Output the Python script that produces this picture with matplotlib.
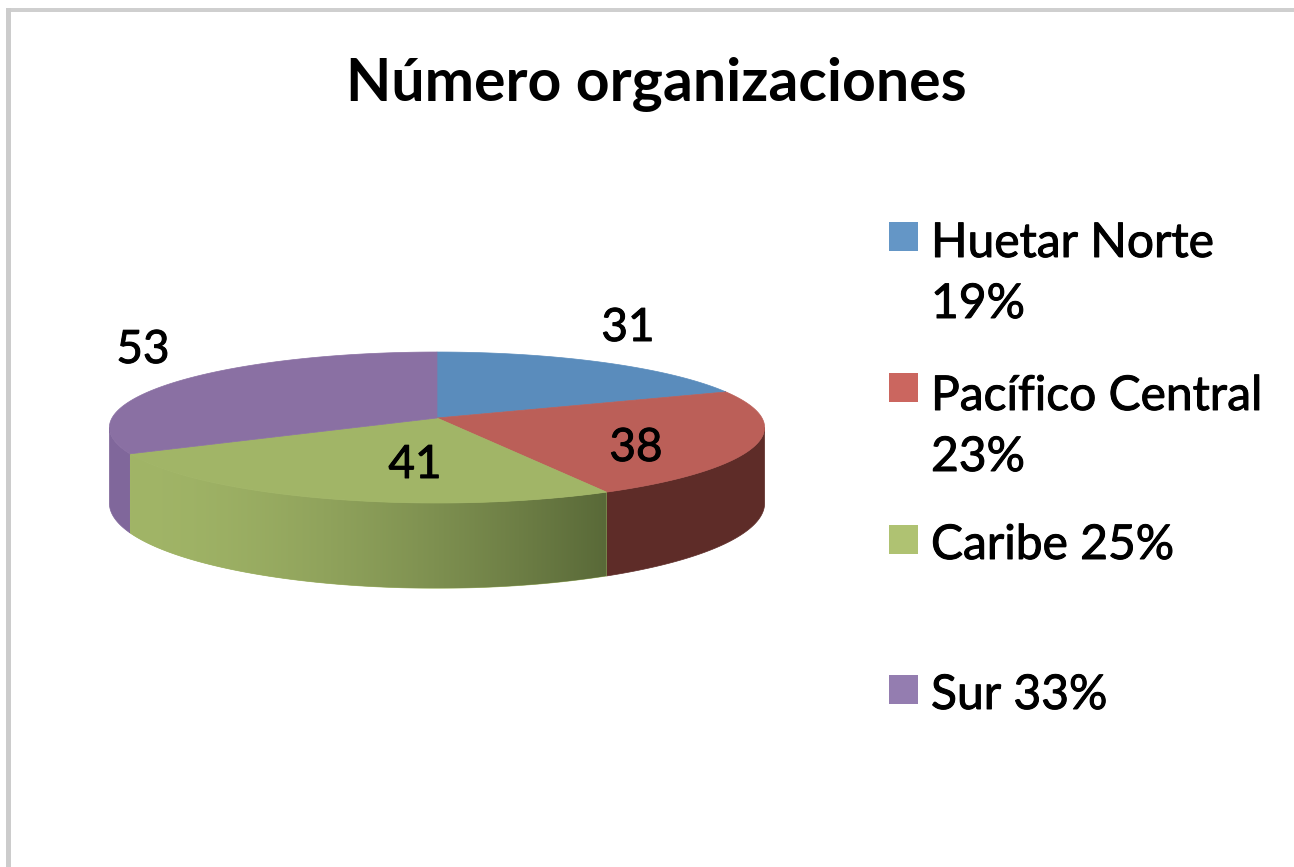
import matplotlib
matplotlib.use("Agg")
import matplotlib.pyplot as plt
import matplotlib.patheffects as pe
import numpy as np
from matplotlib.patches import Polygon, Rectangle

plt.rcParams['font.family'] = ['Lato', 'DejaVu Sans']

# datos
regiones = ["Huetar Norte\n19%", "Pacífico Central\n23%", "Caribe 25%", "Sur 33%"]
valores = [31, 38, 41, 53]

col_top = ['#5a8cbc', '#bb5f58', '#a1b567', '#8a70a3']
col_lado = ['#3f6385', '#5e2c28', '#a1b567', '#80679b']
col_leyenda = ['#6496c6', '#cb665f', '#afc272', '#947db0']

pos_etiquetas = [(628, 328), (636, 448), (415, 465), (143, 350)]
pos_leyenda = [(243, 304), (396, 457), (545, None), (695, None)]
pos_cuadros = [222, 373, 525, 675]

# geometria del pastel, en pixeles
cx, cy = 437, 418
ancho, alto, k = 325, 74.3, 0.126
prof = 74.5

grueso = [pe.withStroke(linewidth=0.7, foreground='black')]


def tapa(t):
    # punto del borde superior con perspectiva (t en grados, desde arriba, horario)
    r = np.radians(t)
    w = 1 + k * np.cos(r)
    return cx + ancho * np.sin(r) / w, cy - alto * np.cos(r) / w, w


def pared(t0, t1):
    t = np.linspace(t0, t1, 200)
    x, y, w = tapa(t)
    arriba = np.column_stack([x, y])
    abajo = np.column_stack([x, y + prof / w])
    return np.vstack([arriba, abajo[::-1]])


fig = plt.figure(figsize=(12.94, 8.67), dpi=100)
ax = fig.add_axes([0, 0, 1, 1])

angulos = np.cumsum([0] + valores) / sum(valores) * 360

# solo se ve la parte delantera de la pared
t_der = np.degrees(np.arccos(-k))
t_izq = 360 - t_der

# paredes
for i in range(len(valores)):
    t0, t1 = max(angulos[i], t_der), min(angulos[i + 1], t_izq)
    if t1 <= t0:
        continue
    puntos = pared(t0, t1)
    pol = Polygon(puntos, closed=True, fc=col_lado[i], ec=col_lado[i], lw=0.5, zorder=1)
    ax.add_patch(pol)
    if regiones[i].startswith("Caribe"):
        # degradado de la pared verde
        x0, x1 = puntos[:, 0].min(), puntos[:, 0].max()
        y0, y1 = puntos[:, 1].min(), puntos[:, 1].max()
        c0 = np.array([0xa1, 0xb5, 0x67]) / 255
        c1 = np.array([0x59, 0x69, 0x38]) / 255
        f = np.linspace(0, 1, 400) ** 1.6
        grad = (c0[None, :] * (1 - f[:, None]) + c1[None, :] * f[:, None])[None, :, :]
        im = ax.imshow(grad, extent=(x0, x1, y1, y0), aspect='auto',
                       interpolation='bilinear', zorder=1.5)
        im.set_clip_path(pol)

# tapa
for i in range(len(valores)):
    t = np.linspace(angulos[i], angulos[i + 1], 200)
    x, y, w = tapa(t)
    puntos = np.vstack([[cx, cy], np.column_stack([x, y])])
    ax.add_patch(Polygon(puntos, closed=True, fc=col_top[i], ec=col_top[i], lw=0.5, zorder=2))

# etiquetas de datos
for v, (x, y) in zip(valores, pos_etiquetas):
    ax.text(x, y, str(v), fontsize=33, color='black', ha='center', va='center',
            zorder=3, path_effects=grueso)

ax.text(656, 85, "Número organizaciones", fontsize=42.5, fontweight='bold',
        color='black', ha='center', va='center')

# leyenda
for nombre, col, (y1, y2), yc in zip(regiones, col_leyenda, pos_leyenda, pos_cuadros):
    ax.add_patch(Rectangle((889, yc), 29, 29, fc=col, ec='none'))
    lineas = nombre.split("\n")
    ax.text(931, y1, lineas[0], fontsize=34.5, color='black', ha='left', va='center',
            path_effects=grueso)
    if y2 is not None:
        ax.text(931, y2, lineas[1], fontsize=34.5, color='black', ha='left', va='center',
                path_effects=grueso)

# marco gris de la captura
ax.add_patch(Rectangle((6, 8), 1294, 4, fc='#cfcfcf', ec='none'))
ax.add_patch(Rectangle((6, 8), 5, 867, fc='#cccccc', ec='none'))

ax.set_xlim(0, 1294)
ax.set_ylim(867, 0)
ax.axis('off')

fig.savefig("out.png", dpi=100)
